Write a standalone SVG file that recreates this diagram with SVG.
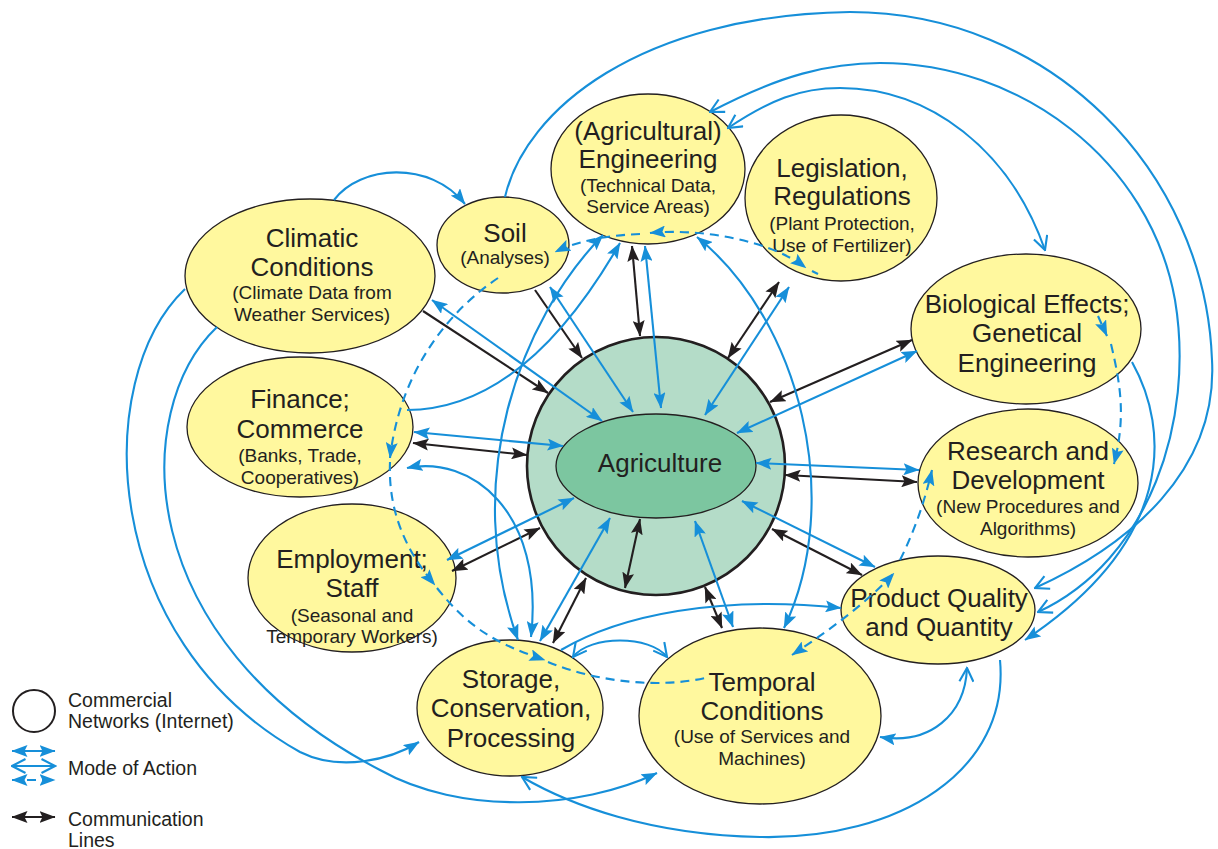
<svg xmlns="http://www.w3.org/2000/svg" width="1218" height="849" viewBox="0 0 1218 849">
<style>
.node{fill:#fff89e;stroke:#231f20;stroke-width:1.3}
.t{font-family:"Liberation Sans",Arial,sans-serif;fill:#231f20;text-anchor:middle}
.h{font-size:26px}
.s{font-size:19px}
.lg{font-family:"Liberation Sans",Arial,sans-serif;fill:#231f20;font-size:19.5px}
.b{fill:none;stroke:#168fd9;stroke-width:2.1}
.k{fill:none;stroke:#231f20;stroke-width:2.1}
.d{fill:none;stroke:#168fd9;stroke-width:2.1;stroke-dasharray:9 6}
.bf{marker-start:url(#bf);marker-end:url(#bf)}
.be{marker-end:url(#bf)}
.kf{marker-start:url(#kf);marker-end:url(#kf)}
.ke{marker-end:url(#kf)}
</style>
<defs>
<marker id="bf" viewBox="0 0 16 12" refX="15.5" refY="6" markerWidth="16" markerHeight="12" markerUnits="userSpaceOnUse" orient="auto-start-reverse"><path d="M0,0 L16,6 L0,12 L3,6 z" fill="#168fd9"/></marker>
<marker id="kf" viewBox="0 0 16 12" refX="15.5" refY="6" markerWidth="16" markerHeight="12" markerUnits="userSpaceOnUse" orient="auto-start-reverse"><path d="M0,0 L16,6 L0,12 L3,6 z" fill="#231f20"/></marker>
<marker id="bo" viewBox="0 0 16 16" refX="14.5" refY="8" markerWidth="16" markerHeight="16" markerUnits="userSpaceOnUse" orient="auto-start-reverse"><path d="M1,1 L14.5,8 L1,15" fill="none" stroke="#168fd9" stroke-width="2.1"/></marker>
</defs>

<g id="node-agriculture">
<circle cx="656" cy="466" r="129" fill="#b4dcc8" stroke="#231f20" stroke-width="2.6"/>
<ellipse cx="656" cy="466" rx="100" ry="52" fill="#7cc6a0" stroke="#231f20" stroke-width="1.3"/>
<text class="t h" x="660" y="472">Agriculture</text>
</g>
<g id="node-climatic">
<ellipse class="node" cx="310" cy="276" rx="125" ry="77"/>
<text class="t h" x="312" y="247">Climatic</text>
<text class="t h" x="312" y="276">Conditions</text>
<text class="t s" x="312" y="299">(Climate Data from</text>
<text class="t s" x="312" y="321">Weather Services)</text>
</g>
<g id="node-soil">
<ellipse class="node" cx="503" cy="245" rx="66" ry="48"/>
<text class="t h" x="505" y="242">Soil</text>
<text class="t s" x="505" y="264">(Analyses)</text>
</g>
<g id="node-engineering">
<ellipse class="node" cx="648" cy="169" rx="97" ry="75"/>
<text class="t h" x="648" y="140">(Agricultural)</text>
<text class="t h" x="648" y="168">Engineering</text>
<text class="t s" x="648" y="192">(Technical Data,</text>
<text class="t s" x="648" y="213">Service Areas)</text>
</g>
<g id="node-legislation">
<ellipse class="node" cx="841" cy="198" rx="96" ry="83"/>
<text class="t h" x="842" y="177">Legislation,</text>
<text class="t h" x="842" y="205">Regulations</text>
<text class="t s" x="842" y="230">(Plant Protection,</text>
<text class="t s" x="842" y="252">Use of Fertilizer)</text>
</g>
<g id="node-biological">
<ellipse class="node" cx="1026" cy="329" rx="115" ry="75"/>
<text class="t h" x="1027" y="313">Biological Effects;</text>
<text class="t h" x="1027" y="342">Genetical</text>
<text class="t h" x="1027" y="372">Engineering</text>
</g>
<g id="node-research">
<ellipse class="node" cx="1028" cy="483" rx="110" ry="74"/>
<text class="t h" x="1028" y="460">Research and</text>
<text class="t h" x="1028" y="489">Development</text>
<text class="t s" x="1028" y="513">(New Procedures and</text>
<text class="t s" x="1028" y="535">Algorithms)</text>
</g>
<g id="node-product">
<ellipse class="node" cx="938" cy="610" rx="97" ry="54"/>
<text class="t h" x="939" y="607">Product Quality</text>
<text class="t h" x="939" y="636">and Quantity</text>
</g>
<g id="node-temporal">
<ellipse class="node" cx="760" cy="716" rx="121" ry="88"/>
<text class="t h" x="762" y="691">Temporal</text>
<text class="t h" x="762" y="720">Conditions</text>
<text class="t s" x="762" y="743">(Use of Services and</text>
<text class="t s" x="762" y="765">Machines)</text>
</g>
<g id="node-storage">
<ellipse class="node" cx="510" cy="708" rx="93" ry="68"/>
<text class="t h" x="511" y="688">Storage,</text>
<text class="t h" x="511" y="717">Conservation,</text>
<text class="t h" x="511" y="747">Processing</text>
</g>
<g id="node-employment">
<ellipse class="node" cx="352" cy="578" rx="104" ry="74"/>
<text class="t h" x="352" y="568">Employment;</text>
<text class="t h" x="352" y="597">Staff</text>
<text class="t s" x="352" y="622">(Seasonal and</text>
<text class="t s" x="352" y="643">Temporary Workers)</text>
</g>
<g id="node-finance">
<ellipse class="node" cx="300" cy="427" rx="113" ry="70"/>
<text class="t h" x="300" y="408">Finance;</text>
<text class="t h" x="300" y="438">Commerce</text>
<text class="t s" x="300" y="462">(Banks, Trade,</text>
<text class="t s" x="300" y="484">Cooperatives)</text>
</g>

<g id="connectors">
<!-- black communication lines -->
<path class="k ke" d="M423,311 L548,393"/>
<path class="k ke" d="M535,290 L582,358"/>
<path class="k kf" d="M632,246 L640,336"/>
<path class="k kf" d="M779,282 L728,358"/>
<path class="k kf" d="M912,340 L770,402"/>
<path class="k kf" d="M917,482 L785,475"/>
<path class="k kf" d="M862,575 L772,529"/>
<path class="k kf" d="M722,628 L705,587"/>
<path class="k kf" d="M640,519 L625,588"/>
<path class="k kf" d="M553,643 L586,578"/>
<path class="k kf" d="M452,571 L540,528"/>
<path class="k kf" d="M413,443 L527,455"/>
<!-- blue straight lines -->
<path class="b bf" d="M432,300 L602,421"/>
<path class="b bf" d="M550,287 L633,412"/>
<path class="b bf" d="M645,246 L661,408"/>
<path class="b bf" d="M789,287 L705,415"/>
<path class="b bf" d="M917,351 L737,433"/>
<path class="b bf" d="M919,470 L756,463"/>
<path class="b bf" d="M875,567 L742,501"/>
<path class="b bf" d="M733,627 L695,521"/>
<path class="b bf" d="M540,641 L610,518"/>
<path class="b bf" d="M447,560 L574,498"/>
<path class="b bf" d="M414,432 L563,446"/>
<!-- blue curves -->
<path class="b be" d="M334,200 C360,165 430,160 465,204"/>
<path class="b" marker-end="url(#bo)" d="M505,197 C525,110 640,15 850,12 C1050,12 1205,170 1212,360 C1218,470 1130,545 1035,588"/>
<path class="b" marker-start="url(#bo)" marker-end="url(#bo)" d="M710,112 C780,75 830,63 880,63 C1020,63 1150,160 1175,300 C1195,420 1150,560 1038,612"/>
<path class="b" marker-start="url(#bo)" marker-end="url(#bo)" d="M728,128 C770,100 800,88 840,88 C930,88 1010,150 1045,250"/>
<path class="b be" d="M1132,362 C1170,430 1175,540 1025,640"/>
<path class="b be" d="M185,289 C90,380 100,640 300,752 C340,772 390,760 419,742"/>
<path class="b be" d="M217,327 C130,410 130,640 380,770 C460,815 580,810 657,773"/>
<path class="b" marker-end="url(#bo)" d="M1000,660 C1010,770 900,840 760,837 C650,835 570,805 522,777"/>
<path class="b" marker-start="url(#bf)" marker-end="url(#bo)" d="M880,737 C930,745 965,715 967,668"/>
<path class="b be" d="M561,650 C620,615 720,595 841,608"/>
<path class="b" marker-start="url(#bo)" marker-end="url(#bo)" d="M573,657 C590,635 650,635 667,657"/>
<path class="b bf" d="M407,468 C470,455 545,510 531,637"/>
<path class="b bf" d="M603,235 C520,320 460,480 518,640"/>
<path class="b be" d="M407,410 C500,410 570,330 620,243"/>
<path class="b bf" d="M697,237 C800,320 845,500 784,628"/>
<!-- dashed -->
<path class="d bf" d="M650,233 C700,228 770,240 806,268"/>
<path class="d" d="M812,271 L818,274"/>
<path class="d be" d="M640,234 C610,235 580,240 555,252"/>
<path class="d be" d="M498,278 C450,310 400,370 390,458"/>
<path class="d be" d="M390,462 C388,510 405,550 435,585"/>
<path class="d be" d="M437,588 C470,630 500,645 545,660"/>
<path class="d" d="M548,662 C600,683 660,688 705,678"/>
<path class="d bf" d="M792,655 C830,630 870,600 894,573"/>
<path class="d be" d="M900,560 C915,530 925,500 932,470"/>
<path class="d be" d="M1098,316 L1107,336"/>
<path class="d be" d="M1111,344 C1122,390 1125,420 1114,464"/>
</g>

<g id="legend">
<circle cx="34" cy="711" r="21" fill="none" stroke="#231f20" stroke-width="2"/>
<text class="lg" x="68" y="707">Commercial</text>
<text class="lg" x="68" y="728">Networks (Internet)</text>
<path class="b bf" d="M12,751 L55,751"/>
<path class="b" marker-start="url(#bo)" marker-end="url(#bo)" d="M12,766 L55,766"/>
<path class="d bf" stroke-dasharray="5 4" d="M12,780 L55,780"/>
<text class="lg" x="68" y="775">Mode of Action</text>
<path class="k kf" d="M12,817 L55,817"/>
<text class="lg" x="68" y="826">Communication</text>
<text class="lg" x="68" y="847">Lines</text>
</g>
</svg>
